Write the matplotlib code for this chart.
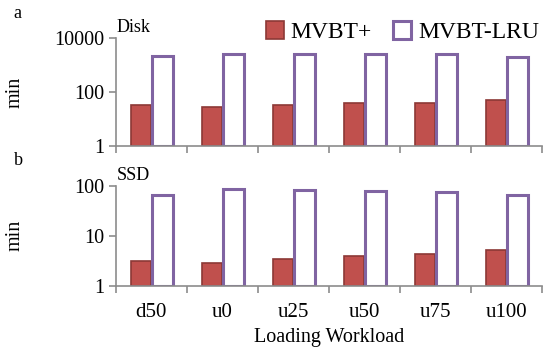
import numpy as np
import matplotlib
matplotlib.use("Agg")
import matplotlib.pyplot as plt

plt.rcParams["font.family"] = ["Liberation Serif", "DejaVu Serif"]

# dados
cargas = ["d50", "u0", "u25", "u50", "u75", "u100"]
disk_mvbt_plus = [34, 29, 34, 41, 38, 51]
disk_mvbt_lru = [2150, 2550, 2470, 2470, 2450, 1920]
ssd_mvbt_plus = [3.16, 2.8, 3.47, 3.87, 4.24, 5.25]
ssd_mvbt_lru = [66, 86, 83, 79, 76, 65]

VERMELHO = "#C0504D"
VERM_BORDA = "#8C3836"
ROXO = "#8064A2"
CINZA = "#8C8C8C"

fig = plt.figure(figsize=(5.44, 3.48), dpi=100)
ax1 = fig.add_axes([0.213, 0.580, 0.783, 0.311])
ax2 = fig.add_axes([0.213, 0.179, 0.783, 0.2865])

x = np.arange(len(cargas))
w = 0.29


def desenhar(ax, plus, lru, ylim, yticks, rotulo):
    # barras partem de 1 (base do eixo log)
    ax.bar(x - w / 2, np.array(plus) - 1, w, bottom=1, color=VERMELHO,
           edgecolor=VERM_BORDA, linewidth=1.2, label="MVBT+")
    ax.bar(x + w / 2 + 0.01, np.array(lru) - 1, w, bottom=1, color="white",
           edgecolor=ROXO, linewidth=2.2, label="MVBT-LRU")
    ax.set_yscale("log")
    ax.set_ylim(*ylim)
    ax.set_xlim(-0.5, len(cargas) - 0.5)
    ax.set_yticks(yticks)
    ax.set_yticklabels([str(t) for t in yticks])
    ax.yaxis.set_minor_locator(matplotlib.ticker.NullLocator())
    ax.set_xticks(np.arange(len(cargas) + 1) - 0.5)
    ax.set_xticklabels([])
    for s in ["top", "right"]:
        ax.spines[s].set_visible(False)
    for s in ["left", "bottom"]:
        ax.spines[s].set_color(CINZA)
        ax.spines[s].set_linewidth(1.2)
    ax.tick_params(axis="both", colors=CINZA, length=5, width=1.2,
                   labelcolor="black", labelsize=14.5)
    ax.set_ylabel("min", fontsize=14.5)
    ax.text(0.002, 1.02, rotulo, transform=ax.transAxes, fontsize=13,
            va="bottom", ha="left")


desenhar(ax1, disk_mvbt_plus, disk_mvbt_lru, (1, 10000), [1, 100, 10000], "Disk")
desenhar(ax2, ssd_mvbt_plus, ssd_mvbt_lru, (1, 100), [1, 10, 100], "SSD")

for i, c in enumerate(cargas):
    ax2.text(i, -0.17, c, transform=ax2.get_xaxis_transform(), ha="center",
             va="top", fontsize=15)
ax2.text(0.5, -0.42, "Loading Workload", transform=ax2.transAxes, ha="center",
         va="top", fontsize=14.5)

ax1.yaxis.set_label_coords(-0.215, 0.5)
ax2.yaxis.set_label_coords(-0.215, 0.5)

fig.text(0.025, 0.962, "a", fontsize=13, va="center")
fig.text(0.025, 0.54, "b", fontsize=13, va="center")

h, l = ax1.get_legend_handles_labels()
fig.legend(h, l, loc="upper right", bbox_to_anchor=(1.03, 1.0), ncol=2,
           frameon=False, fontsize=17, handlelength=0.75, handleheight=0.75,
           handletextpad=0.3, columnspacing=0.9)

fig.savefig("out.png", dpi=100)
